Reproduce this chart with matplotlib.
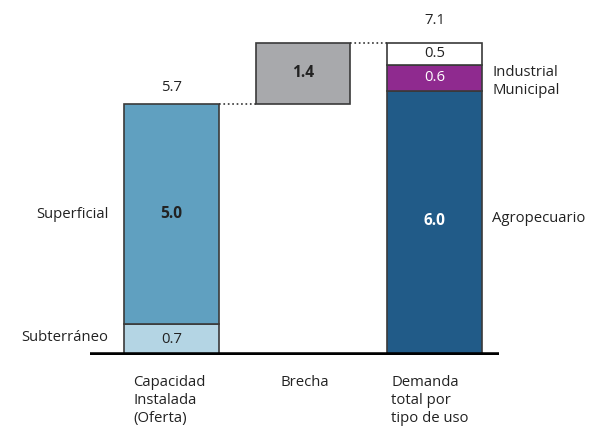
import matplotlib.pyplot as plt

plt.rcParams["font.family"] = ["Open Sans", "DejaVu Sans"]

# values
categories = ["Capacidad\nInstalada\n(Oferta)", "Brecha", "Demanda\ntotal por\ntipo de uso"]
oferta = [0.7, 5.0]  # subterraneo, superficial
oferta_labels = ["Subterráneo", "Superficial"]
brecha = 1.4
demanda = [6.0, 0.6, 0.5]  # agropecuario, municipal, industrial
demanda_labels = ["Agropecuario", "Municipal", "Industrial"]
oferta_total = 5.7
demanda_total = 7.1

c_sub = "#b4d5e4"
c_sup = "#60a0c0"
c_gap = "#a8a9ac"
c_agro = "#215b88"
c_muni = "#8f2a8f"
c_ind = "#ffffff"
edge = "#3a3a3a"

fig = plt.figure(figsize=(5.96, 4.28), dpi=100)
ax = fig.add_axes([90 / 596, 73 / 428, 409 / 596, 352 / 428])

w = 0.72
# oferta stack
ax.bar(0, oferta[0], w, color=c_sub, edgecolor=edge, linewidth=1.2)
ax.bar(0, oferta[1], w, bottom=oferta[0], color=c_sup, edgecolor=edge, linewidth=1.2)
# brecha floating bar
ax.bar(1, brecha, w, bottom=oferta_total, color=c_gap, edgecolor=edge, linewidth=1.2)
# demanda stack
ax.bar(2, demanda[0], w, color=c_agro, edgecolor=edge, linewidth=1.2)
ax.bar(2, demanda[1], w, bottom=demanda[0], color=c_muni, edgecolor=edge, linewidth=1.2)
ax.bar(2, demanda[2], w, bottom=demanda[0] + demanda[1], color=c_ind,
       edgecolor=edge, linewidth=1.2)

# dotted connectors
ax.plot([w / 2, 1 - w / 2], [oferta_total, oferta_total], ":", color="#333333", lw=1.2)
ax.plot([1 + w / 2, 2 - w / 2], [demanda_total, demanda_total], ":", color="#333333", lw=1.2)

fs = 10.7
dark = "#222222"
# values
ax.text(0, oferta_total + 0.38, "%.1f" % oferta_total, ha="center", va="center", fontsize=fs, color=dark)
ax.text(0, oferta[0] / 2, "%.1f" % oferta[0], ha="center", va="center", fontsize=fs, color=dark)
ax.text(0, oferta[0] + oferta[1] / 2, "%.1f" % oferta[1], ha="center", va="center",
        fontsize=fs + 0.5, fontweight="bold", color=dark)
ax.text(1, oferta_total + brecha / 2, "%.1f" % brecha, ha="center", va="center",
        fontsize=fs + 0.5, fontweight="bold", color=dark)
ax.text(2, demanda[0] / 2 + 0.05, "%.1f" % demanda[0], ha="center", va="center",
        fontsize=fs + 0.5, fontweight="bold", color="white")
ax.text(2, demanda[0] + demanda[1] / 2, "%.1f" % demanda[1], ha="center", va="center",
        fontsize=fs, color="white")
ax.text(2, demanda[0] + demanda[1] + demanda[2] / 2, "%.1f" % demanda[2], ha="center",
        va="center", fontsize=fs, color=dark)
ax.text(2, demanda_total + 0.5, "%.1f" % demanda_total, ha="center", va="center", fontsize=fs, color=dark)

# side labels
ax.text(-0.48, oferta[0] / 2 + 0.05, oferta_labels[0], ha="right", va="center", fontsize=fs, color=dark)
ax.text(-0.48, oferta[0] + oferta[1] / 2, oferta_labels[1], ha="right", va="center", fontsize=fs, color=dark)
ax.text(2.44, demanda[0] / 2 + 0.1, demanda_labels[0], ha="left", va="center", fontsize=fs, color=dark)
ax.text(2.44, demanda[0] + 0.02, demanda_labels[1], ha="left", va="center", fontsize=fs, color=dark)
ax.text(2.44, demanda[0] + demanda[1] * 0.7, demanda_labels[2], ha="left", va="center", fontsize=fs, color=dark)

# category labels under the baseline
xs_lab = [-0.29, 0.83, 1.67]
for x, lab in zip(xs_lab, categories):
    ax.text(x, -0.45, lab, ha="left", va="top", fontsize=fs, color=dark, linespacing=1.3)

ax.axhline(0, color="black", lw=4)
ax.set_xlim(-0.62, 2.49)
ax.set_ylim(0, 8)
ax.axis("off")

fig.savefig("out.png", dpi=100)
